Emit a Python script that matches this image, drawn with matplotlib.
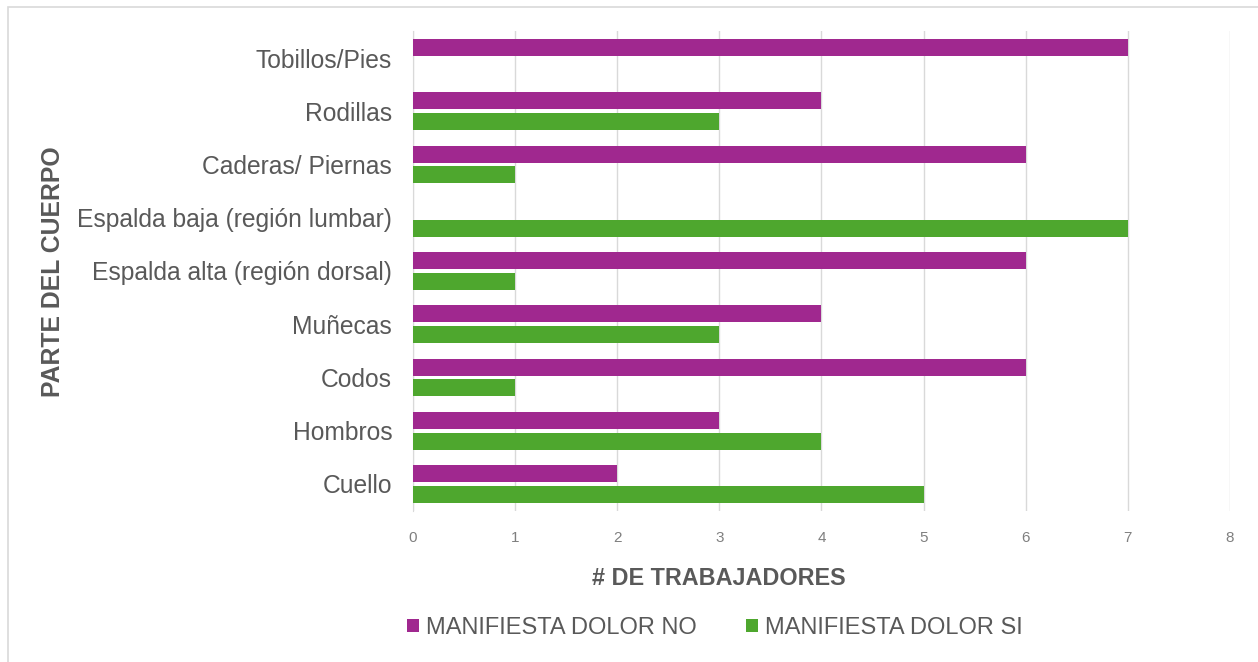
import matplotlib
matplotlib.use("Agg")
from matplotlib import pyplot as plt
from matplotlib.patches import Rectangle
import numpy as np

plt.rcParams['font.family'] = ['Liberation Sans', 'DejaVu Sans']

partes = ['Cuello', 'Hombros', 'Codos', 'Muñecas', 'Espalda alta (región dorsal)',
          'Espalda baja (región lumbar)', 'Caderas/ Piernas', 'Rodillas', 'Tobillos/Pies']
dolor_no = [2, 3, 6, 4, 6, 0, 6, 4, 7]
dolor_si = [5, 4, 1, 3, 1, 7, 1, 3, 0]

purple = '#A0288F'
green = '#4EA72E'
gray_text = '#595959'

fig = plt.figure(figsize=(12.58, 6.62), dpi=100)
ax = fig.add_axes([0.3283, 0.2287, 0.6494, 0.7239])

y = np.arange(len(partes))
h = 0.32
off = 0.195
ax.barh(y + off, dolor_no, height=h, color=purple, label='MANIFIESTA DOLOR NO', zorder=3)
ax.barh(y - off, dolor_si, height=h, color=green, label='MANIFIESTA DOLOR SI', zorder=3)

ax.set_xlim(0, 8)
ax.set_ylim(-0.5, len(partes) - 0.5)
ax.set_xticks(range(9))
ax.set_yticks(y)
ax.set_yticklabels(partes, fontsize=17.7, color=gray_text)
ax.tick_params(axis='x', labelsize=11, labelcolor='#7F7F7F', length=0, pad=15)
ax.tick_params(axis='y', length=0, pad=15)

ax.grid(axis='x', color='#D9D9D9', linewidth=1, zorder=0)
for side in ['top', 'right', 'bottom']:
    ax.spines[side].set_visible(False)
ax.spines['left'].set_color('#D9D9D9')

fig.text(0.5715, 0.1254, '# DE TRABAJADORES', fontsize=16.8, fontweight='bold',
         color=gray_text, ha='center', va='center')
fig.text(0.042, 0.589, 'PARTE DEL CUERPO', rotation=90, fontsize=17.8, fontweight='bold',
         color=gray_text, ha='center', va='center')

fig.legend(loc='center', bbox_to_anchor=(0.5684, 0.0514), ncol=2, frameon=False,
           fontsize=17, labelcolor=gray_text, handlelength=0.5, handleheight=0.5,
           handletextpad=0.3, columnspacing=2.1)

# only the top and left edges of the outer frame are inside the picture
fig.patches.append(Rectangle((0.0064, -0.1), 1.2, 1.0894, transform=fig.transFigure,
                             fill=False, edgecolor='#D9D9D9', linewidth=1.2))

fig.savefig('out.png', dpi=100)
